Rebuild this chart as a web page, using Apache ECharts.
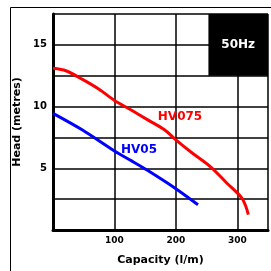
<!DOCTYPE html>
<html><head><meta charset="utf-8">
<script src="https://cdn.jsdelivr.net/npm/echarts@6/dist/echarts.min.js"></script>
<style>html,body{margin:0;padding:0;background:#fff}#c{width:271px;height:271px}</style>
</head><body><div id="c"></div>
<script>
const hv075X = [0, 21, 48, 75, 100, 128, 155, 182, 200, 225, 257, 284, 301, 308, 314, 318];
const hv075Y = [13.1, 12.9, 12.2, 11.4, 10.5, 9.7, 8.9, 8.1, 7.3, 6.3, 5.1, 3.75, 2.95, 2.55, 1.9, 1.25];
const hv05X = [0, 48, 100, 128, 155, 200, 236];
const hv05Y = [9.45, 8.1, 6.4, 5.6, 4.8, 3.35, 2.05];
const xTicks = [100, 200, 300];
const yTicks = [5, 10, 15];
const seriesNames = ['HV075', 'HV05'];
const xName = 'Capacity (l/m)';
const yName = 'Head (metres)';
const boxLabel = '50Hz';

const chart = echarts.init(document.getElementById('c'), null, {renderer: 'canvas'});
const F = 'DejaVu Sans';
chart.setOption({
  animation: false,
  grid: {left: 53, top: 14, right: 1, bottom: 37},
  xAxis: {
    type: 'value', min: 0, max: 350, interval: 100,
    name: xName, nameLocation: 'middle', nameGap: 25,
    nameTextStyle: {fontFamily: F, fontWeight: 'bold', fontSize: 11, color: '#000'},
    axisLine: {lineStyle: {color: '#000', width: 3}},
    axisTick: {show: false},
    axisLabel: {fontFamily: F, fontWeight: 'bold', fontSize: 9, color: '#000', margin: 6,
      formatter: v => xTicks.includes(v) ? String(v) : ''},
    splitLine: {show: true, lineStyle: {color: '#000', width: 1.5}}
  },
  yAxis: {
    type: 'value', min: 0, max: 17.5, interval: 2.5,
    name: yName, nameLocation: 'middle', nameGap: 26,
    nameTextStyle: {fontFamily: F, fontWeight: 'bold', fontSize: 11, color: '#000'},
    axisLine: {show: true, lineStyle: {color: '#000', width: 3}},
    axisTick: {show: false},
    axisLabel: {fontFamily: F, fontWeight: 'bold', fontSize: 10, color: '#000', margin: 6,
      formatter: v => yTicks.includes(v) ? String(v) : ''},
    splitLine: {show: true, lineStyle: {color: '#000', width: 1.5}}
  },
  series: [
    {
      name: seriesNames[0], type: 'line', smooth: 0.3, symbol: 'none',
      lineStyle: {color: '#ff0000', width: 3},
      data: hv075X.map((x, i) => [x, hv075Y[i]]),
      markArea: {
        silent: true,
        itemStyle: {color: '#000'},
        label: {show: true, position: 'inside', color: '#fff', fontFamily: F, fontWeight: 'bold', fontSize: 12},
        data: [[{coord: [253, 17.5], name: boxLabel}, {coord: [350, 12.5]}]]
      },
      z: 3
    },
    {
      name: seriesNames[1], type: 'line', smooth: 0.3, symbol: 'none',
      lineStyle: {color: '#0000ff', width: 3},
      data: hv05X.map((x, i) => [x, hv05Y[i]]),
      z: 3
    }
  ],
  graphic: [
    {type: 'rect', shape: {x: 10.5, y: 7.5, width: 270, height: 270}, style: {fill: 'none', stroke: '#000', lineWidth: 1}, z: 10},
    {type: 'text', x: 180, y: 117, style: {text: seriesNames[0], fill: '#ff0000', font: 'bold 12px "DejaVu Sans"', textAlign: 'center', textVerticalAlign: 'middle'}, z: 10},
    {type: 'text', x: 139, y: 150, style: {text: seriesNames[1], fill: '#0000ff', font: 'bold 12px "DejaVu Sans"', textAlign: 'center', textVerticalAlign: 'middle'}, z: 10}
  ]
});
</script></body></html>
